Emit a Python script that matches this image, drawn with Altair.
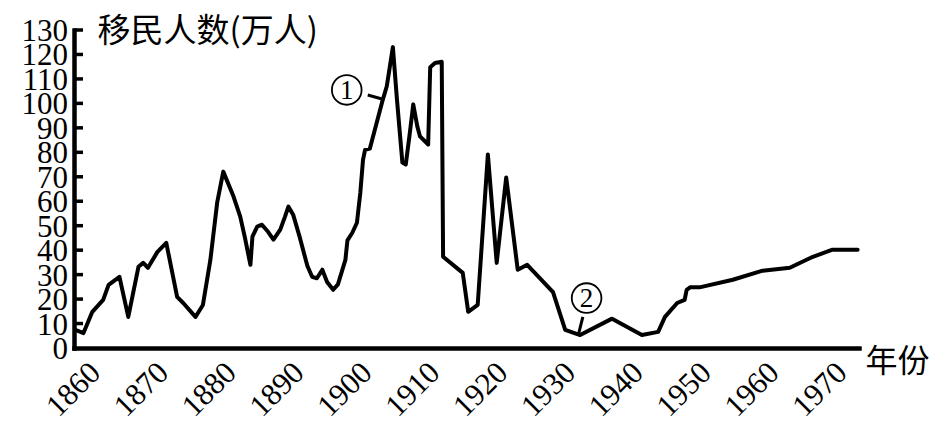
import altair as alt
import pandas as pd

# --- data ---
years = [1860.2, 1861.4, 1862.7, 1864.3, 1865.1, 1866.7, 1868.0, 1869.5, 1870.2, 1870.9,
         1872.3, 1873.6, 1875.2, 1876.1, 1877.9, 1879.0, 1880.1, 1881.1, 1882.0, 1883.5,
         1884.5, 1885.2, 1886.0, 1886.3, 1887.0, 1887.7, 1888.6, 1889.4, 1890.4, 1891.1,
         1891.6, 1892.3, 1893.3, 1894.4, 1895.1, 1895.8, 1896.6, 1897.3, 1898.2, 1898.9,
         1900.0, 1900.3, 1901.0, 1901.7, 1902.2, 1902.6, 1902.9, 1903.6, 1905.4, 1906.1,
         1907.0, 1907.6, 1908.4, 1908.9, 1909.5, 1910.0, 1910.6, 1911.0, 1912.2, 1912.5,
         1913.2, 1914.2, 1914.4, 1917.3, 1918.1, 1919.5, 1921.0, 1922.3, 1923.7, 1925.4,
         1926.8, 1930.6, 1932.4, 1934.6, 1939.3, 1943.7, 1946.1, 1947.1, 1948.9, 1950.0,
         1950.3, 1950.8, 1952.2, 1957.1, 1961.5, 1965.5, 1968.9, 1971.8, 1975.5]
values = [7.4, 6.1, 14.8, 19.7, 25.8, 29.1, 12.7, 33.2, 34.8, 32.8,
          39.3, 43.0, 20.9, 18.4, 12.7, 17.6, 36.0, 59.4, 72.1, 62.0,
          53.7, 45.0, 34.0, 45.5, 49.6, 50.4, 47.5, 44.3, 48.4, 53.7,
          57.8, 54.5, 45.0, 33.5, 29.1, 28.5, 32.0, 27.0, 23.8, 26.0,
          36.0, 44.0, 47.0, 51.2, 63.5, 77.0, 81.0, 81.5, 100.4, 107.0,
          123.0, 101.6, 75.8, 75.0, 88.0, 99.6, 90.6, 86.5, 83.2, 114.8,
          116.5, 117.0, 37.3, 30.7, 14.8, 17.6, 79.1, 34.8, 69.7, 32.0,
          34.0, 22.8, 7.4, 5.3, 12.0, 5.3, 6.6, 12.7, 18.4, 19.7,
          23.8, 24.8, 24.8, 27.9, 31.6, 32.8, 37.3, 40.2, 40.2]

x_ticks = [1860, 1870, 1880, 1890, 1900, 1910, 1920, 1930, 1940, 1950, 1960, 1970]
x_labels = ["1860", "1870", "1880", "1890", "1900", "1910", "1920", "1930", "1940",
            "1950", "1960", "1970"]
y_ticks = [0, 10, 20, 30, 40, 50, 60, 70, 80, 90, 100, 110, 120, 130]
y_labels = ["0", "10", "20", "30", "40", "50", "60", "70", "80", "90", "100", "110",
            "120", "130"]
y_marks = [10, 20, 30, 40, 50, 60, 70, 80, 90, 100, 110, 120, 130]

y_title = "移民人数(万人)"
x_title = "年份"

# annotations (data coordinates)
note_labels = ["1", "2"]
note_years = [1900.2, 1935.55]
note_values = [105.5, 20.4]
lead_year1 = [1903.3, 1935.0]
lead_val1 = [103.4, 12.7]
lead_year2 = [1905.4, 1934.4]
lead_val2 = [101.8, 6.1]

df = pd.DataFrame({"year": years, "value": values, "idx": list(range(len(years)))})
df_ticks = pd.DataFrame({"value": y_marks})
df_ylab = pd.DataFrame({"value": y_ticks, "label": y_labels})
df_xlab = pd.DataFrame({"year": x_ticks, "label": x_labels})
df_notes = pd.DataFrame({"year": note_years, "value": note_values, "label": note_labels})
df_lead = pd.DataFrame({"year": lead_year1, "value": lead_val1,
                        "year2": lead_year2, "value2": lead_val2})

SERIF = "Liberation Serif, Times New Roman, DejaVu Serif, serif"
CJK = "Noto Sans CJK SC"
H = 318

xscale = alt.Scale(domain=[1860, 1975.7], nice=False, zero=False)
yscale = alt.Scale(domain=[0, 130], nice=False, zero=True)

x_axis = alt.Axis(
    values=x_ticks, labels=False, ticks=False, grid=False, title=x_title,
    domainColor="black", domainWidth=4.5, domainCap="square",
    titleFont=CJK, titleFontSize=32, titleFontWeight="normal", titleColor="black",
    titleAngle=0, titleAlign="left", titleBaseline="middle", titleX=791, titleY=13,
)
y_axis = alt.Axis(
    values=y_ticks, labels=False, ticks=False, grid=False, title=y_title,
    domainColor="black", domainWidth=4.5, domainCap="square",
    titleFont=CJK, titleFontSize=33, titleFontWeight="normal", titleColor="black",
    titleAngle=0, titleAlign="left", titleBaseline="middle", titleX=23, titleY=1,
)

line = alt.Chart(df).mark_line(
    color="black", strokeWidth=4, strokeJoin="round", strokeCap="round"
).encode(
    x=alt.X("year:Q", scale=xscale, axis=x_axis),
    y=alt.Y("value:Q", scale=yscale, axis=y_axis),
    order="idx:Q",
)

ticks = alt.Chart(df_ticks).mark_rule(color="black", strokeWidth=3.5).encode(
    y=alt.Y("value:Q"),
    x=alt.value(0),
    x2=alt.value(9),
)

ylabels = alt.Chart(df_ylab).mark_text(
    font=SERIF, fontSize=31, color="black", align="right", baseline="middle", dy=2
).encode(
    y=alt.Y("value:Q"),
    x=alt.value(-6),
    text="label:N",
)

xlabels = alt.Chart(df_xlab).mark_text(
    font=SERIF, fontSize=31, color="black", align="center", baseline="middle", angle=315
).encode(
    x=alt.X("year:Q"),
    y=alt.value(H + 42),
    text="label:N",
)

circles = alt.Chart(df_notes).mark_point(
    shape="circle", size=880, filled=False, stroke="black", strokeWidth=1.8, opacity=1
).encode(
    x=alt.X("year:Q"),
    y=alt.Y("value:Q"),
)

nums = alt.Chart(df_notes).mark_text(
    font=SERIF, fontSize=27, color="black", align="center", baseline="middle", dy=1
).encode(
    x=alt.X("year:Q"),
    y=alt.Y("value:Q"),
    text="label:N",
)

leads = alt.Chart(df_lead).mark_rule(color="black", strokeWidth=3).encode(
    x=alt.X("year:Q"),
    y=alt.Y("value:Q"),
    x2="year2:Q",
    y2="value2:Q",
)

chart = alt.layer(line, ticks, leads, circles, nums, ylabels, xlabels).properties(
    width=785,
    height=H,
    autosize=alt.AutoSizeParams(type="none"),
    padding={"left": 66, "top": 22, "right": 80, "bottom": 80},
    background="white",
).configure_view(
    stroke=None
).configure_axis(
    domainColor="black", domainWidth=4.5, domainCap="square", grid=False, ticks=False,
    titleFont=CJK, titleFontWeight="normal", titleColor="black",
)

chart.save("out.html", embed_options={"renderer": "svg", "actions": False})
